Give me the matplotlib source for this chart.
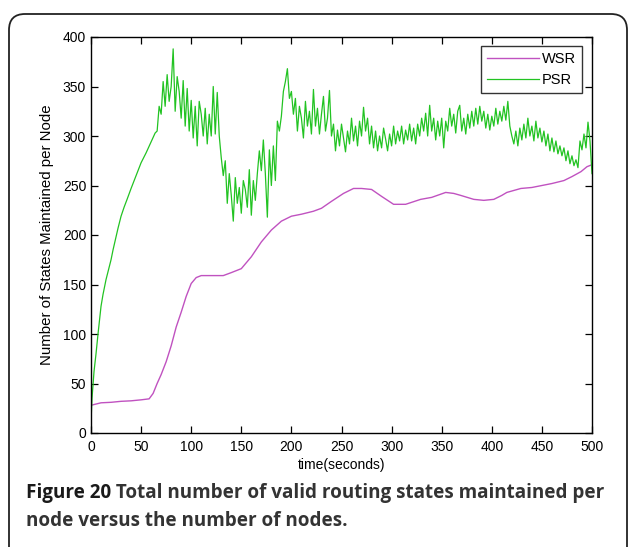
import matplotlib
matplotlib.use("Agg")
import matplotlib.pyplot as plt
from matplotlib.patches import FancyBboxPatch

# ---------------- data ----------------
wsr_t = [0, 10, 20, 30, 40, 50, 58, 62, 66, 70, 75, 80, 85, 90, 95, 100, 105, 110, 120,
         132, 140, 150, 160, 170, 180, 190, 200, 210, 222, 230, 240, 252, 262, 270, 280,
         290, 302, 314, 320, 329, 340, 354, 362, 369, 382, 392, 402, 410, 415, 429, 440,
         450, 460, 472, 480, 489, 495, 500]
wsr_v = [28, 30.5, 31, 32, 32.5, 33.5, 34.5, 40, 50, 59, 72, 88, 107, 122, 138, 151, 157, 159, 159,
         159, 162, 166, 178, 193, 205, 214, 219, 221, 224, 227, 234, 242, 247, 247, 246,
         239, 231, 231, 233, 236, 238, 243, 242, 240, 236, 235, 236, 240, 243, 247, 248,
         250, 252, 255, 259, 264, 269, 271]

psr_rise_t = [0, 1, 3, 5, 7, 10, 12, 15, 17, 20, 22, 25, 27, 30, 33, 36, 40, 45, 50, 55, 60, 64]
psr_rise_v = [11, 35, 62, 80, 100, 128, 140, 155, 163, 175, 185, 198, 207, 219, 228, 236, 247,
              260, 273, 283, 294, 303]

psr_noisy_t = list(range(66, 501, 2))
psr_noisy_v = [
    305, 330, 322, 355, 330, 362, 335, 350, 388, 325,
    360, 345, 318, 356, 310, 348, 305, 336, 298, 330,
    290, 335, 322, 300, 328, 292, 322, 300, 350, 302,
    344, 300, 278, 260, 275, 232, 262, 240, 214, 258,
    232, 248, 222, 255, 246, 228, 266, 220, 255, 235,
    262, 285, 265, 296, 262, 218, 286, 250, 290, 255,
    315, 305, 320, 345, 355, 368, 338, 345, 322, 338,
    305, 330, 318, 298, 335, 310, 325, 302, 347, 310,
    328, 302, 322, 340, 305, 318, 346, 300, 312, 285,
    306, 290, 312, 298, 284, 305, 292, 318, 295, 310,
    290, 315, 300, 329, 305, 318, 292, 310, 288, 305,
    285, 300, 288, 308, 297, 285, 302, 290, 310, 292,
    305, 295, 310, 292, 306, 296, 312, 295, 308, 292,
    312, 300, 318, 305, 323, 300, 331, 305, 318, 296,
    315, 300, 318, 288, 315, 305, 328, 310, 322, 303,
    325, 331, 305, 318, 302, 322, 308, 325, 310, 328,
    312, 330, 315, 325, 308, 322, 306, 320, 310, 328,
    312, 325, 315, 330, 316, 335, 310, 300, 292, 305,
    290, 308, 296, 312, 298, 318, 300, 310, 295, 315,
    298, 308, 294, 305, 290, 302, 285, 298, 284, 295,
    282, 290, 280, 288, 275, 285, 272, 280, 270, 276,
    268, 295, 286, 302, 288, 314, 295, 262,
]

psr_t = psr_rise_t + psr_noisy_t
psr_v = psr_rise_v + psr_noisy_v

x_ticks = [0, 50, 100, 150, 200, 250, 300, 350, 400, 450, 500]
y_ticks = [0, 50, 100, 150, 200, 250, 300, 350, 400]

caption_bold = "Figure 20"
caption_rest = " Total number of valid routing states maintained per"
caption_line2 = "node versus the number of nodes."

# ---------------- figure ----------------
W, H = 629, 547
fig = plt.figure(figsize=(W / 100, H / 100), dpi=100)
fig.patch.set_facecolor("white")

border = FancyBboxPatch((0.09, -0.5), 6.18, 5.47 - 0.14 + 0.5,
                        boxstyle="round,pad=0,rounding_size=0.16",
                        transform=fig.dpi_scale_trans, fill=False,
                        edgecolor="#222222", linewidth=1.3)
fig.patches.append(border)

ax = fig.add_axes([91 / W, (H - 433) / H, 501 / W, 396 / H])

ax.plot(wsr_t, wsr_v, color="#c052c0", linewidth=1.0, label="WSR")
ax.plot(psr_t, psr_v, color="#22c322", linewidth=0.9, label="PSR")

ax.set_xlim(0, 500)
ax.set_ylim(0, 400)
ax.set_xticks(x_ticks)
ax.set_yticks(y_ticks)
tick_font = "Liberation Sans"
ax.set_xticklabels([str(v) for v in x_ticks], fontfamily=tick_font, fontsize=10)
ax.set_yticklabels([str(v) for v in y_ticks], fontfamily=tick_font, fontsize=10)
ax.tick_params(axis="x", pad=5)
ax.tick_params(direction="in", length=5, width=0.9, top=True, right=True,
               colors="black")
for s in ax.spines.values():
    s.set_linewidth(1.0)
    s.set_color("black")

ax.set_xlabel("time(seconds)", fontfamily=tick_font, fontsize=10, labelpad=3)
ax.set_ylabel("Number of States Maintained per Node", fontfamily=tick_font,
              fontsize=10.8, labelpad=6)

leg = ax.legend(loc="upper right", bbox_to_anchor=(1 - 10 / 501, 1 - 9 / 396),
                borderaxespad=0, frameon=True, fancybox=False, edgecolor="black",
                handlelength=3.6, handletextpad=0.2, labelspacing=0.5,
                borderpad=0.4, prop={"family": tick_font, "size": 10.5})
leg.get_frame().set_linewidth(1.0)

cap_size = 13.6
t1 = fig.text(26 / W, 1 - 493 / H, caption_bold, fontfamily="Open Sans",
              fontweight="bold", fontsize=cap_size, color="#1a1a1a", va="center", ha="left")
fig.canvas.draw()
bb = t1.get_window_extent()
fig.text(bb.x1 / W, 1 - 493 / H, caption_rest, fontfamily="Open Sans",
         fontweight="bold", fontsize=cap_size, color="#333333", va="center", ha="left")
fig.text(26 / W, 1 - 521 / H, caption_line2, fontfamily="Open Sans",
         fontweight="bold", fontsize=cap_size, color="#333333", va="center", ha="left")

fig.savefig("out.png", dpi=100, facecolor="white")
